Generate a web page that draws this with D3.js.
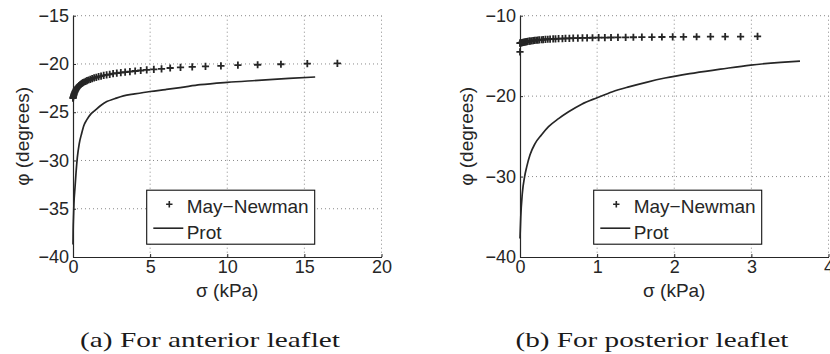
<!DOCTYPE html>
<html>
<head>
<meta charset="utf-8">
<script src="https://cdn.jsdelivr.net/npm/d3@7"></script>
<style>
  body { margin: 0; background: #fff; }
  svg { display: block; }
</style>
</head>
<body>
<svg id="chart" width="830" height="354"></svg>
<script>
// panel (a) anterior leaflet
var antMayX = [17.14, 15.19, 13.48, 11.97, 10.69, 9.59, 8.59, 7.73, 6.97, 6.30, 5.74, 5.24, 4.78, 4.39, 4.03,
  3.69, 3.38, 3.10, 2.84, 2.60, 2.38, 2.18, 1.99, 1.82, 1.66, 1.51, 1.37, 1.24, 1.12, 1.01, 0.91, 0.82,
  0.73, 0.65, 0.58, 0.51, 0.45, 0.39, 0.34, 0.29, 0.25, 0.21, 0.17, 0.14, 0.11, 0.08, 0.06, 0.04, 0.02, 0.01, 0.00];
var antMayY = [-19.93, -19.97, -20.03, -20.08, -20.13, -20.19, -20.24, -20.30, -20.36, -20.42, -20.50, -20.56, -20.62, -20.68, -20.73,
  -20.79, -20.84, -20.89, -20.95, -21.01, -21.07, -21.13, -21.19, -21.25, -21.31, -21.38, -21.45, -21.52, -21.59, -21.66, -21.73, -21.80,
  -21.87, -21.94, -22.01, -22.09, -22.17, -22.25, -22.34, -22.43, -22.52, -22.62, -22.73, -22.84, -22.95, -23.07, -23.18, -23.29, -23.40, -23.48, -23.55];
var antProtX = [0, 0.01, 0.03, 0.06, 0.13, 0.2, 0.28, 0.4, 0.56, 0.7, 0.89, 1.15, 1.43, 1.8, 2.19, 2.7, 3.27, 4.0, 5.0, 6.0, 6.95, 8.25, 10.0, 12.0, 14.0, 15.7];
var antProtY = [-38.7, -37.2, -36.0, -34.5, -32.8, -31.2, -29.7, -28.3, -27.2, -26.4, -25.8, -25.2, -24.8, -24.3, -23.9, -23.6, -23.3, -23.1, -22.85, -22.65, -22.45, -22.15, -21.9, -21.7, -21.5, -21.35];
var antXTicks = [0, 5, 10, 15, 20];
var antYTicks = [-40, -35, -30, -25, -20, -15];

// panel (b) posterior leaflet
var postMayX = [3.08, 2.86, 2.66, 2.47, 2.29, 2.12, 1.98, 1.84, 1.71, 1.58, 1.47, 1.37, 1.27, 1.18, 1.10, 1.02, 0.94,
  0.87, 0.81, 0.75, 0.69, 0.64, 0.59, 0.55, 0.50, 0.46, 0.43, 0.39, 0.36, 0.33, 0.30, 0.28, 0.25, 0.23, 0.21,
  0.19, 0.17, 0.15, 0.13, 0.12, 0.10, 0.09, 0.08, 0.07, 0.06, 0.05, 0.04, 0.03, 0.02, 0.01, 0.005, 0.00, 0.00];
var postMayY = [-12.58, -12.59, -12.60, -12.61, -12.62, -12.63, -12.64, -12.65, -12.66, -12.67, -12.68, -12.69, -12.70, -12.71, -12.72, -12.73, -12.74,
  -12.75, -12.76, -12.78, -12.79, -12.81, -12.82, -12.84, -12.86, -12.88, -12.89, -12.91, -12.93, -12.95, -12.97, -12.99, -13.01, -13.03, -13.05,
  -13.07, -13.09, -13.12, -13.15, -13.17, -13.20, -13.22, -13.24, -13.26, -13.28, -13.30, -13.32, -13.34, -13.36, -13.38, -13.40, -13.42, -14.5];
var postProtX = [0, 0.01, 0.03, 0.06, 0.087, 0.13, 0.195, 0.28, 0.37, 0.5, 0.63, 0.8, 1.0, 1.2, 1.41, 1.65, 1.88, 2.2, 2.6, 2.99, 3.38, 3.63];
var postProtY = [-37.7, -35.0, -32.1, -30.0, -28.8, -27.3, -25.9, -24.8, -23.8, -22.8, -21.95, -21.0, -20.2, -19.45, -18.85, -18.25, -17.75, -17.2, -16.65, -16.14, -15.8, -15.64];
var postXTicks = [0, 1, 2, 3, 4];
var postYTicks = [-40, -30, -20, -10];

var seriesNames = ["May\u2212Newman", "Prot"];
var xLabel = "\u03c3 (kPa)";
var yLabel = "\u03c6 (degrees)";
var captions = ["(a) For anterior leaflet", "(b) For posterior leaflet"];

var ink = "#262626";
var font = "'Liberation Sans', Arial, sans-serif";
var W = 308.5, H = 241.3;

var svg = d3.select("#chart");

function plusPath(s) {
  return "M" + (-s) + ",0H" + s + "M0," + (-s) + "V" + s;
}

function drawPanel(left, top, cfg) {
  var g = svg.append("g").attr("transform", "translate(" + left + "," + top + ")");
  var x = d3.scaleLinear().domain(d3.extent(cfg.xTicks)).range([0, W]);
  var y = d3.scaleLinear().domain(d3.extent(cfg.yTicks)).range([H, 0]);

  // dotted grid
  g.append("g").selectAll("line").data(cfg.xTicks.slice(1)).join("line")
    .attr("x1", d => x(d)).attr("x2", d => x(d)).attr("y1", 0).attr("y2", H)
    .attr("stroke", "#8a8a8a").attr("stroke-width", 1).attr("stroke-dasharray", "1,3");
  g.append("g").selectAll("line").data(cfg.yTicks.slice(1)).join("line")
    .attr("x1", 0).attr("x2", W).attr("y1", d => y(d)).attr("y2", d => y(d))
    .attr("stroke", "#8a8a8a").attr("stroke-width", 1).attr("stroke-dasharray", "1,3");

  // axes
  var xa = g.append("g").attr("transform", "translate(0," + H + ")")
    .call(d3.axisBottom(x).tickValues(cfg.xTicks).tickSizeInner(-3).tickSizeOuter(0).tickPadding(3).tickFormat(d3.format("d")));
  var ya = g.append("g")
    .call(d3.axisLeft(y).tickValues(cfg.yTicks).tickSizeInner(-3).tickSizeOuter(0).tickPadding(4).tickFormat(d => d3.format("d")(d).replace("-", "\u2212")));
  [xa, ya].forEach(function (a) {
    a.select(".domain").attr("stroke", ink).attr("stroke-width", 1.2);
    a.selectAll(".tick line").attr("stroke", ink);
    a.selectAll(".tick text").attr("font-family", font).attr("font-size", 18).attr("fill", ink);
  });

  // Prot line
  var line = d3.line().x(d => x(d[0])).y(d => y(d[1])).curve(d3.curveMonotoneX);
  g.append("path").datum(d3.zip(cfg.protX, cfg.protY))
    .attr("d", line).attr("fill", "none").attr("stroke", ink).attr("stroke-width", 1.7);

  // May-Newman markers
  g.append("g").selectAll("path").data(d3.zip(cfg.mayX, cfg.mayY)).join("path")
    .attr("transform", d => "translate(" + x(d[0]) + "," + y(d[1]) + ")")
    .attr("d", plusPath(3.6)).attr("stroke", ink).attr("stroke-width", 1.8).attr("fill", "none");

  // axis labels
  g.append("text").attr("x", W / 2).attr("y", H + 40).attr("text-anchor", "middle")
    .attr("font-family", font).attr("font-size", 19).attr("fill", ink).text(xLabel);
  g.append("text").attr("transform", "translate(" + cfg.yLabelX + "," + (H / 2) + ") rotate(-90)")
    .attr("text-anchor", "middle").attr("font-family", font).attr("font-size", 19).attr("fill", ink).text(yLabel);

  // legend
  var lg = g.append("g").attr("transform", "translate(73.7,174.5)");
  lg.append("rect").attr("width", 168).attr("height", 54).attr("fill", "#fff").attr("stroke", "#111").attr("stroke-width", 1.1);
  lg.append("path").attr("transform", "translate(22.6,14)").attr("d", plusPath(3.2))
    .attr("stroke", ink).attr("stroke-width", 1.6);
  lg.append("line").attr("x1", 6.6).attr("x2", 36.6).attr("y1", 38).attr("y2", 38)
    .attr("stroke", ink).attr("stroke-width", 1.6);
  lg.selectAll("text").data(seriesNames).join("text")
    .attr("x", 40).attr("y", (d, i) => 22.5 + i * 26.5)
    .attr("font-family", font).attr("font-size", 19).attr("fill", ink).text(d => d);

  // caption
  svg.append("text").attr("x", left + cfg.capDx).attr("y", 347).attr("text-anchor", "middle")
    .attr("font-family", "'Liberation Serif', serif").attr("font-size", 21).attr("fill", "#1a1a1a")
    .attr("textLength", cfg.capW).attr("lengthAdjust", "spacingAndGlyphs")
    .text(cfg.caption);
}

drawPanel(73, 15.7, { xTicks: antXTicks, yTicks: antYTicks, mayX: antMayX, mayY: antMayY,
  protX: antProtX, protY: antProtY, yLabelX: -44, caption: captions[0], capDx: 137, capW: 260 });
drawPanel(520, 15.7, { xTicks: postXTicks, yTicks: postYTicks, mayX: postMayX, mayY: postMayY,
  protX: postProtX, protY: postProtY, yLabelX: -47, caption: captions[1], capDx: 132, capW: 273 });
</script>
</body>
</html>
